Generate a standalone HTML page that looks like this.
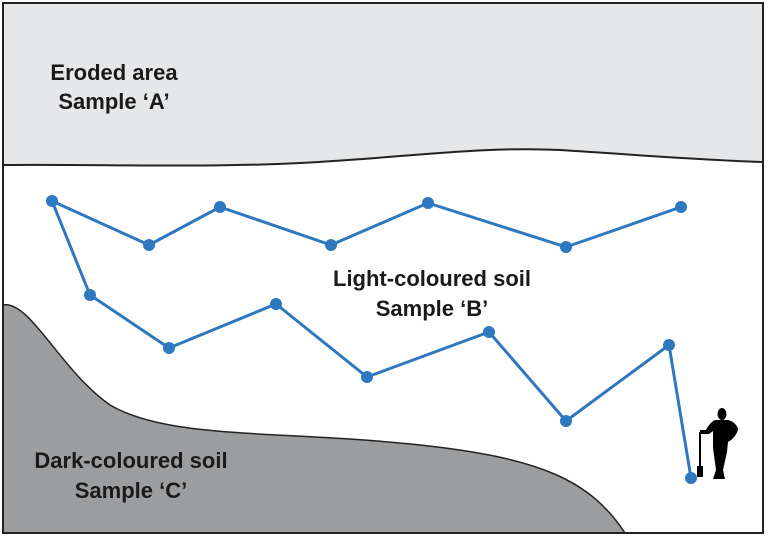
<!DOCTYPE html>
<html><head><style>
body{margin:0;background:#fff;}
svg{display:block;}
text{font-family:"Liberation Sans",sans-serif;font-size:22px;font-weight:600;fill:#1a1a1a;text-anchor:middle;}
</style></head><body>
<svg width="768" height="538" viewBox="0 0 768 538">
<rect x="3" y="3" width="760" height="530" fill="#fff"/>
<path d="M3,3 H763 V162 C700,160 640,155 560,150 C480,146 400,158 300,163 C200,168 100,164 3,165 Z" fill="#e6e7e8" stroke="#222" stroke-width="2"/>
<path d="M3,305 C30,300 60,370 110,405 C170,440 280,430 420,445 C540,458 590,480 625,533 H3 Z" fill="#9c9d9f" stroke="#222" stroke-width="1.5"/>
<rect x="3" y="3" width="760" height="530" fill="none" stroke="#222" stroke-width="2"/>
<text x="114" y="80">Eroded area</text>
<text x="114" y="109">Sample ‘A’</text>
<text x="432" y="286">Light-coloured soil</text>
<text x="432" y="316">Sample ‘B’</text>
<text x="131" y="468">Dark-coloured soil</text>
<text x="131" y="498">Sample ‘C’</text>
<g stroke="#2e78c0" stroke-width="3" fill="none" stroke-linejoin="round">
<polyline points="52,201 149,245 220,207 331,245 428,203 566,247 681,207"/>
<polyline points="52,201 90,295 169,348 276,304 367,377 489,332 566,421 669,345 691,478"/>
</g>
<g fill="#2e78c0">
<circle cx="52" cy="201" r="6"/><circle cx="149" cy="245" r="6"/><circle cx="220" cy="207" r="6"/><circle cx="331" cy="245" r="6"/><circle cx="428" cy="203" r="6"/><circle cx="566" cy="247" r="6"/><circle cx="681" cy="207" r="6"/>
<circle cx="90" cy="295" r="6"/><circle cx="169" cy="348" r="6"/><circle cx="276" cy="304" r="6"/><circle cx="367" cy="377" r="6"/><circle cx="489" cy="332" r="6"/><circle cx="566" cy="421" r="6"/><circle cx="669" cy="345" r="6"/><circle cx="691" cy="478" r="6"/>
</g>
<g fill="#000">
<ellipse cx="722" cy="414" rx="4.5" ry="6"/>
<path d="M715,420 C711,422 708,426 706,430 L700,430 L700,434 L709,434 L713,431 L713,448 L716,470 L713,479 L725,479 L723,470 L727,452 L728,442 C732,440 737,435 738,429 C737,424 731,420 727,420 Z"/>
<rect x="699" y="432" width="2" height="36"/>
<rect x="697" y="466" width="6" height="11"/>
</g>
</svg>
</body></html>
